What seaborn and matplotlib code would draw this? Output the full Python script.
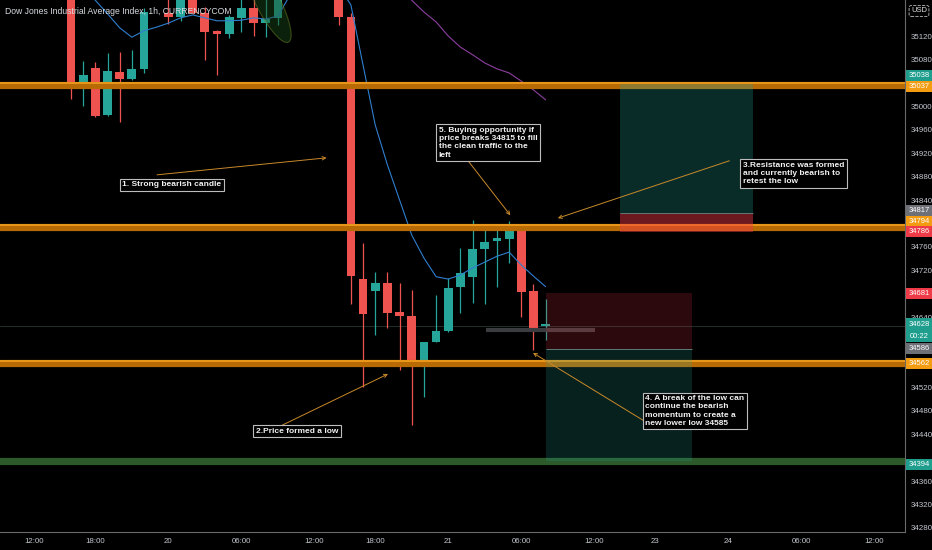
import matplotlib
matplotlib.use("Agg")
import matplotlib.pyplot as plt
from matplotlib.patches import Rectangle
import numpy as np
import pandas as pd
import seaborn as sns

# hourly candles (bar 0 = first visible candle on the left)
opens = [35230, 35031, 35065, 34985, 35059, 35047, 35064, 35195, 35159, 35152,
         35195, 35159, 35129, 35124, 35151, 35168, 35142, 35151, 35205, 35230,
         35215, 35235, 35220, 35153, 34705, 34685, 34698, 34649, 34642, 34567,
         34598, 34616, 34691, 34709, 34756, 34770, 34773, 34787, 34684, 34625]
highs = [35245, 35077, 35076, 35091, 35093, 35096, 35168, 35235, 35200, 35205,
         35210, 35170, 35131, 35156, 35195, 35190, 35195, 35215, 35240, 35250,
         35245, 35250, 35228, 35160, 34767, 34717, 34717, 34698, 34686, 34598,
         34678, 34707, 34758, 34806, 34789, 34794, 34804, 34790, 34697, 34671]
lows = [35012, 35000, 34982, 34984, 34973, 35045, 35057, 35188, 35140, 35146,
        35157, 35079, 35054, 35117, 35127, 35120, 35118, 35139, 35195, 35210,
        35200, 35215, 35139, 34663, 34521, 34610, 34622, 34550, 34456, 34504,
        34597, 34615, 34647, 34664, 34662, 34691, 34732, 34640, 34584, 34601]
closes = [35030, 35054, 34983, 35060, 35047, 35064, 35161, 35220, 35153, 35195,
          35159, 35127, 35124, 35153, 35168, 35142, 35149, 35205, 35230, 35215,
          35235, 35220, 35153, 34710, 34645, 34698, 34647, 34642, 34565, 34598,
          34616, 34690, 34715, 34756, 34768, 34775, 34789, 34683, 34621, 34628]

# moving averages
ma_fast = [35215, 35200, 35181, 35158, 35134, 35118, 35129, 35135, 35142, 35151,
           35156, 35151, 35146, 35146, 35147, 35151, 35149, 35154, 35190, 35198,
           35205, 35208, 35205, 35173, 35070, 34968, 34900, 34840, 34780, 34741,
           34709, 34705, 34712, 34724, 34734, 34744, 34751, 34729, 34710, 34692]
ma_slow_start = 26
ma_slow = [35215, 35200, 35181, 35161, 35144, 35120, 35101, 35088, 35074, 35064,
           35057, 35043, 35028, 35011]

# horizontal levels
orange_levels = [35037, 34794, 34562]
green_level = 34394
last_price = 34625

# position tools: (x0, x1, entry, stop, target)
long_pos = (45.1, 56.0, 34817, 34786, 35038)
short_pos = (39.0, 51.0, 34586, 34681, 34394)

# x axis labels at bar indices
tick_bars = [-3, 2, 8, 14, 20, 25, 31, 37, 43, 48, 54, 60, 66]
tick_text = ["12:00", "18:00", "20", "06:00", "12:00", "18:00", "21", "06:00",
             "12:00", "23", "24", "06:00", "12:00"]

# right scale ticks that are not hidden behind badges
price_ticks = [35120, 35080, 35000, 34960, 34920, 34880, 34840, 34760, 34720,
               34640, 34520, 34480, 34440, 34360, 34320, 34280]

# price badges on the right scale: (text, colour, price, shift in px)
badges = [("35038", "#1f9e8e", 35038, -9), ("35037", "#f39c12", 35037, 1.5),
          ("34817", "#6e7077", 34817, -2.5), ("34794", "#f39c12", 34794, -5.5),
          ("34786", "#ef3b47", 34786, 0), ("34681", "#ef3b47", 34681, 0),
          ("34586", "#6e7077", 34586, 0), ("34562", "#f39c12", 34562, 1),
          ("34394", "#1f9e8e", 34394, 3)]

notes = [
    ("1. Strong bearish candle", (4.2, 34872), (7.07, 34883), (21.0, 34912)),
    ("2.Price formed a low", (15.2, 34451), (17.0, 34452), (26.05, 34543)),
    ("5. Buying opportunity if\nprice breaks 34815 to fill\nthe clean traffic to the\nleft",
     (30.2, 34965), (32.4, 34913), (36.1, 34814)),
    ("3.Resistance was formed\nand currently bearish to\nretest the low",
     (55.2, 34905), (54.1, 34907), (40.0, 34809)),
    ("4. A break of the low can\ncontinue the bearish\nmomentum to create a\nnew lower low 34585",
     (47.2, 34507), (47.0, 34464), (37.96, 34579)),
]

UP, DOWN = "#26a69a", "#ef5350"
FONT = ["Liberation Sans Narrow", "Liberation Sans", "DejaVu Sans"]

sns.set_style("dark", {"axes.facecolor": "black", "figure.facecolor": "black"})
plt.rcParams["font.family"] = FONT

W, H = 932, 550
PLOT_W, PLOT_H = 905, 532
fig = plt.figure(figsize=(W / 100, H / 100), dpi=100, facecolor="black")
ax = fig.add_axes([0, (H - PLOT_H) / H, PLOT_W / W, PLOT_H / H])
ax.set_facecolor("black")

bar_px = 12.17
y_top = 35181.5
ppp = 1.7074  # price per pixel
ax.set_xlim(-71 / bar_px, (PLOT_W - 71) / bar_px)
ax.set_ylim(y_top - ppp * PLOT_H, y_top)

df = pd.DataFrame({"o": opens, "h": highs, "l": lows, "c": closes})
df["bar"] = np.arange(len(df))
df["color"] = np.where(df["c"] >= df["o"], UP, DOWN)

# candles
ax.vlines(df["bar"], df["l"], df["h"], colors=df["color"], lw=0.9, zorder=2)
body = (df["c"] - df["o"]).abs().clip(lower=1.5)
ax.bar(df["bar"], body, bottom=df[["o", "c"]].min(axis=1), width=0.72,
       color=df["color"], linewidth=0, zorder=2.1)

# moving averages
sns.lineplot(x=df["bar"], y=ma_fast, color="#2f7fd0", lw=0.8, ax=ax, zorder=2.2)
slow_x = np.arange(ma_slow_start, ma_slow_start + len(ma_slow))
sns.lineplot(x=slow_x, y=ma_slow, color="#8c3f9f", lw=0.8, ax=ax, zorder=2.2)

# last price line and grey marker bar
ax.axhline(last_price, color="#233634", lw=0.6, zorder=1)
ax.hlines(34618, 34.1, 43.05, color="#3b3c40", lw=3, zorder=2.3)

# levels
for lv in orange_levels:
    ax.axhline(lv, color="#b86a05", lw=5.2, zorder=3)
    ax.axhline(lv + 2 * ppp, color="#f2a01e", lw=1.2, zorder=3.1)
ax.axhline(green_level, color="#2c5a2a", lw=5.2, zorder=3)

# position boxes
def position(x0, x1, entry, stop, target, a_t, a_r):
    ax.add_patch(Rectangle((x0, min(entry, target)), x1 - x0, abs(target - entry),
                           fc=UP, alpha=a_t, lw=0, zorder=4))
    ax.add_patch(Rectangle((x0, min(entry, stop)), x1 - x0, abs(stop - entry),
                           fc="#f23645", alpha=a_r, lw=0, zorder=4))
    ax.hlines(entry, x0, x1, color="#5f7a78", lw=0.7, zorder=4.1)

position(*long_pos, 0.27, 0.45)
position(*short_pos, 0.2, 0.18)

# ellipse drawing near the top
t = np.linspace(0, 2 * np.pi, 200)
ang = np.deg2rad(62.9)
ex = 45 * np.cos(t) * np.cos(ang) - 12 * np.sin(t) * np.sin(ang)
ey = 45 * np.cos(t) * np.sin(ang) + 12 * np.sin(t) * np.cos(ang)
cx, cy = (268 - 71) / bar_px, y_top - 2 * ppp
ax.fill(cx + ex / bar_px, cy - ey * ppp, fc="#1a4a1a", alpha=0.45,
        ec="#7c8f2a", lw=0.8, zorder=2.5)

# annotations
for text, anchor, tail, head in notes:
    ax.annotate("", xy=head, xytext=tail,
                arrowprops=dict(arrowstyle="->", color="#c98a2a", lw=0.7,
                                shrinkA=0, shrinkB=0, mutation_scale=6),
                zorder=6)
    ax.text(*anchor, text, ha="left", va="top", fontsize=6, fontweight="bold",
            color="#f2f2f2", linespacing=1.25, zorder=7,
            bbox=dict(boxstyle="square,pad=0.3", fc="black", ec="#bdbdbd", lw=0.8))

# axes styling
ax.grid(False)
for side in ["top", "left"]:
    ax.spines[side].set_visible(False)
for side in ["right", "bottom"]:
    ax.spines[side].set_color("#6a6a6a")
    ax.spines[side].set_linewidth(0.8)
ax.yaxis.tick_right()
ax.set_yticks(price_ticks)
ax.set_xticks(tick_bars)
ax.set_xticklabels(tick_text)
ax.tick_params(axis="y", length=0, pad=4, labelsize=5.7, labelcolor="#c4c8d0")
ax.tick_params(axis="x", length=0, pad=4, labelsize=5.7, labelcolor="#c4c8d0")
ax.set_xlabel("")
ax.set_ylabel("")

# price badges
tr = ax.get_yaxis_transform()
bw = 26 / PLOT_W
for text, col, val, shift in badges:
    yc = val - shift * ppp
    ax.add_patch(Rectangle((1 + 1 / PLOT_W, yc - 5.5 * ppp), bw, 11 * ppp,
                           transform=tr, fc=col, lw=0, clip_on=False, zorder=10))
    ax.text(1 + 14 / PLOT_W, yc, text, transform=tr, ha="center", va="center",
            fontsize=5.5, color="white", clip_on=False, zorder=11)
yc = last_price + 3
ax.add_patch(Rectangle((1 + 1 / PLOT_W, yc - 18 * ppp), bw, 24 * ppp,
                       transform=tr, fc="#1f9e8e", lw=0, clip_on=False, zorder=10))
ax.text(1 + 14 / PLOT_W, yc, "34628", transform=tr, ha="center", va="center",
        fontsize=5.5, color="white", clip_on=False, zorder=11)
ax.text(1 + 14 / PLOT_W, yc - 12 * ppp, "00:22", transform=tr, ha="center",
        va="center", fontsize=5.5, color="white", clip_on=False, zorder=11)

fig.text(5 / W, 1 - 11 / H, "Dow Jones Industrial Average Index, 1h, CURRENCYCOM",
         fontsize=6.2, color="#d8dbe2", va="center", ha="left")
fig.text(919 / W, 1 - 11 / H, "USD", fontsize=5.5, color="#e0e0e0",
         va="center", ha="center",
         bbox=dict(boxstyle="round,pad=0.25", fc="black", ec="#bdbdbd",
                   lw=0.6, ls="--"))

fig.savefig("out.png", dpi=100, facecolor="black")
